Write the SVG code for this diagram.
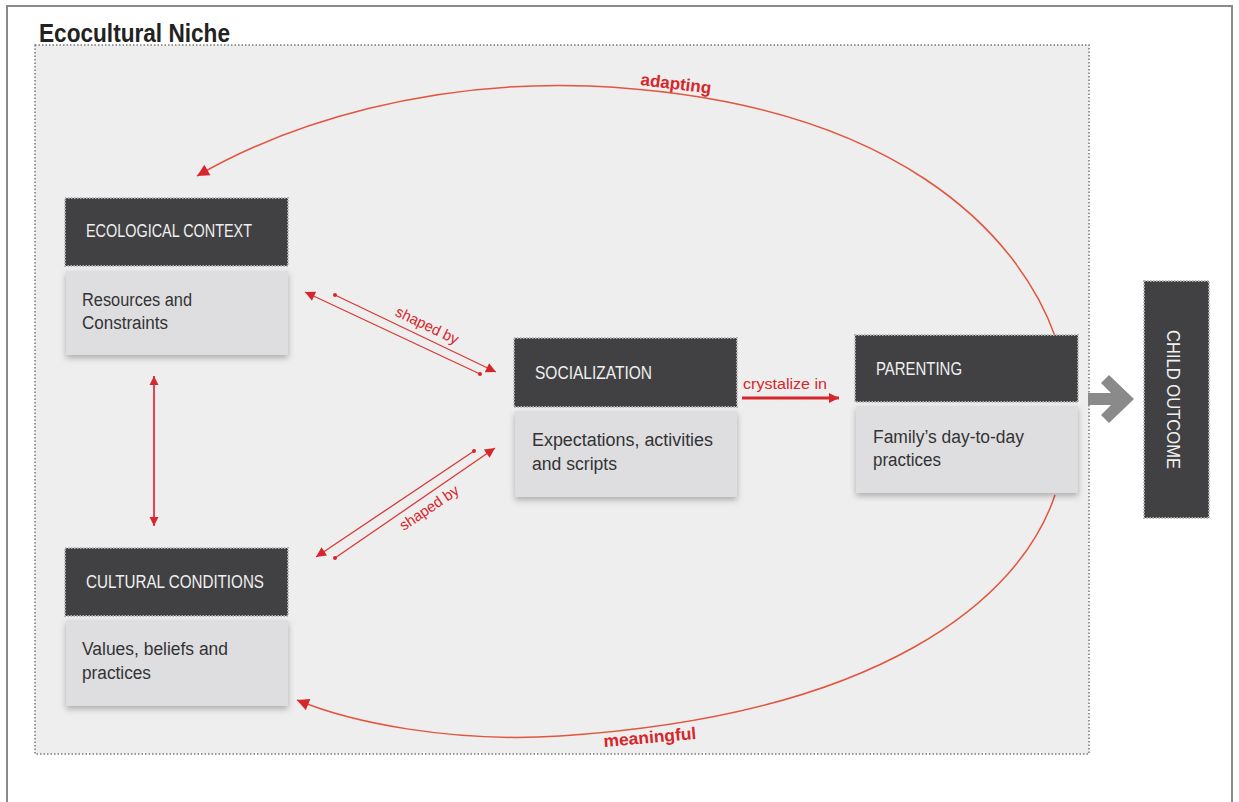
<svg xmlns="http://www.w3.org/2000/svg" width="1239" height="802" viewBox="0 0 1239 802">
<style>
.hdr{fill:#414143;stroke:#b4b4b4;stroke-width:2;stroke-dasharray:1.5 1.5}
.body{fill:#dedee0;filter:url(#sh)}
.ht{font-family:"Liberation Sans",Arial,sans-serif;font-size:19px;fill:#f0f0f0}
.bt{font-family:"Liberation Sans",Arial,sans-serif;font-size:18px;fill:#333335}
.red{font-family:"Liberation Sans",Arial,sans-serif;fill:#d7262b}
.arc{fill:none;stroke:#e2553f;stroke-width:1.5}
.sb{fill:none;stroke:#d93a36;stroke-width:1.3}
</style>
<defs>
<filter id="sh" x="-10%" y="-10%" width="120%" height="130%">
<feDropShadow dx="0" dy="3" stdDeviation="3" flood-color="#000" flood-opacity="0.28"/>
</filter>
<marker id="ah" viewBox="0 0 10 10" refX="10" refY="5" markerWidth="11" markerHeight="10" markerUnits="userSpaceOnUse" orient="auto"><path d="M0,0 L10,5 L0,10 z" fill="#d7262b"/></marker>
<marker id="big" viewBox="0 0 10 10" refX="10" refY="5" markerWidth="15" markerHeight="12" markerUnits="userSpaceOnUse" orient="auto"><path d="M0,0 L10,5 L0,10 z" fill="#d7262b"/></marker>
<marker id="vh" viewBox="0 0 10 10" refX="10" refY="5" markerWidth="9" markerHeight="17" markerUnits="userSpaceOnUse" orient="auto-start-reverse"><path d="M0,0 L10,5 L0,10 z" fill="#d42a2f"/></marker>
<marker id="ch" viewBox="0 0 10 10" refX="10" refY="5" markerWidth="10" markerHeight="14" markerUnits="userSpaceOnUse" orient="auto"><path d="M0,0 L10,5 L0,10 z" fill="#d7262b"/></marker>
<marker id="dot" viewBox="0 0 4 4" refX="2" refY="2" markerWidth="4" markerHeight="4" markerUnits="userSpaceOnUse"><circle cx="2" cy="2" r="2" fill="#d7262b"/></marker>
</defs>
<rect x="0" y="0" width="1239" height="802" fill="#ffffff"/>
<rect x="7" y="6" width="1225" height="820" fill="none" stroke="#8a8a8a" stroke-width="2"/>
<g id="niche">
<rect x="35" y="45" width="1054" height="709" fill="#eeeeee" stroke="#7a7a7a" stroke-width="1.5" stroke-dasharray="1.5 2"/>
<text x="39" y="42" font-family="Liberation Sans,Arial,sans-serif" font-weight="bold" font-size="26" fill="#222" textLength="191" lengthAdjust="spacingAndGlyphs">Ecocultural Niche</text>
</g>
<g id="connectors">
<path class="arc" marker-end="url(#big)" d="M1055,336 C1020,238 900,100 590,86 C430,80 290,122 197,176"/>
<path class="arc" marker-end="url(#big)" d="M1055,495 C1020,600 880,715 560,736 C450,743 350,722 297,700"/>
<text class="red" x="640" y="85" font-size="17" font-weight="bold" textLength="71" lengthAdjust="spacingAndGlyphs" transform="rotate(7 640 85)">adapting</text>
<text class="red" x="604" y="747" font-size="17" font-weight="bold" textLength="93" lengthAdjust="spacingAndGlyphs" transform="rotate(-5 604 747)">meaningful</text>
<line class="sb" x1="335" y1="295" x2="496" y2="372" marker-start="url(#dot)" marker-end="url(#ah)"/>
<line class="sb" x1="480" y1="374" x2="305" y2="292" marker-start="url(#dot)" marker-end="url(#ah)"/>
<text class="red" x="425" y="330" font-size="15" text-anchor="middle" textLength="68" lengthAdjust="spacingAndGlyphs" transform="rotate(25.7 425 330)">shaped by</text>
<line class="sb" x1="474" y1="451" x2="316" y2="557" marker-start="url(#dot)" marker-end="url(#ah)"/>
<line class="sb" x1="335" y1="558" x2="495" y2="448" marker-start="url(#dot)" marker-end="url(#ah)"/>
<text class="red" x="432" y="512" font-size="15" text-anchor="middle" textLength="68" lengthAdjust="spacingAndGlyphs" transform="rotate(-34 432 512)">shaped by</text>
<line x1="154" y1="376" x2="154" y2="526" stroke="#e8434a" stroke-width="2" marker-start="url(#vh)" marker-end="url(#vh)"/>
<line x1="742" y1="398" x2="839" y2="398" stroke="#d7262b" stroke-width="3" marker-end="url(#ch)"/>
<text class="red" x="743" y="389" font-size="15" textLength="84" lengthAdjust="spacingAndGlyphs">crystalize in</text>
<polygon points="1088,393 1111,393 1101,383 1109,375 1134,399 1109,423 1101,415 1111,405 1088,405" fill="#8a8a8a"/>
</g>
<g id="ecological">
<rect class="body" x="66" y="271" width="222" height="84"/>
<rect class="hdr" x="65" y="198" width="223" height="68"/>
<text class="ht" x="86" y="237" textLength="166" lengthAdjust="spacingAndGlyphs">ECOLOGICAL CONTEXT</text>
<text class="bt" x="82" y="306" textLength="110" lengthAdjust="spacingAndGlyphs">Resources and</text>
<text class="bt" x="82" y="329" textLength="86" lengthAdjust="spacingAndGlyphs">Constraints</text>
</g>
<g id="cultural">
<rect class="body" x="66" y="620" width="222" height="86"/>
<rect class="hdr" x="65" y="548" width="223" height="68"/>
<text class="ht" x="86" y="588" textLength="178" lengthAdjust="spacingAndGlyphs">CULTURAL CONDITIONS</text>
<text class="bt" x="82" y="655" textLength="146" lengthAdjust="spacingAndGlyphs">Values, beliefs and</text>
<text class="bt" x="82" y="679" textLength="69" lengthAdjust="spacingAndGlyphs">practices</text>
</g>
<g id="socialization">
<rect class="body" x="515" y="411" width="222" height="86"/>
<rect class="hdr" x="514" y="338" width="223" height="69"/>
<text class="ht" x="535" y="379" textLength="117" lengthAdjust="spacingAndGlyphs">SOCIALIZATION</text>
<text class="bt" x="532" y="446" textLength="181" lengthAdjust="spacingAndGlyphs">Expectations, activities</text>
<text class="bt" x="532" y="470" textLength="85" lengthAdjust="spacingAndGlyphs">and scripts</text>
</g>
<g id="parenting">
<rect class="body" x="856" y="406" width="222" height="87"/>
<rect class="hdr" x="855" y="335" width="223" height="67"/>
<text class="ht" x="876" y="375" textLength="86" lengthAdjust="spacingAndGlyphs">PARENTING</text>
<text class="bt" x="873" y="443" textLength="151" lengthAdjust="spacingAndGlyphs">Family’s day-to-day</text>
<text class="bt" x="873" y="466" textLength="68" lengthAdjust="spacingAndGlyphs">practices</text>
</g>
<g id="child-outcome">
<rect class="hdr" x="1144" y="281" width="65" height="237"/>
<text class="ht" x="0" y="0" font-size="22" textLength="139" lengthAdjust="spacingAndGlyphs" transform="translate(1167 330) rotate(90)">CHILD OUTCOME</text>
</g>
</svg>
